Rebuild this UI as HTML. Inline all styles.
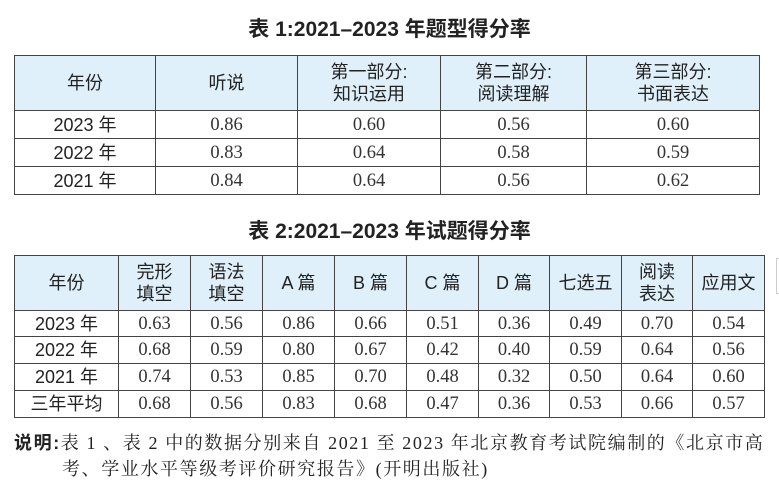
<!DOCTYPE html>
<html><head><meta charset="utf-8">
<style>
body{margin:0;width:779px;height:489px;background:#fff;position:relative;overflow:hidden;font-family:"Liberation Sans","Noto Sans CJK SC",sans-serif;color:#222}
.title{position:absolute;left:0;width:779px;text-align:center;font-weight:bold;font-size:21px}
table{position:absolute;border-collapse:collapse;table-layout:fixed}
td{border:1.5px solid #444;text-align:center;padding:0;font-size:18px;line-height:22px}
tr.h td{background:#dff0fa;font-size:18px}
td.n{font-family:"Liberation Serif","Noto Serif CJK SC",serif;font-size:18.5px;color:#333}
.note{position:absolute;left:14px;font-family:"Liberation Serif","Noto Serif CJK SC",serif;font-size:18px;letter-spacing:1.6px;color:#222;white-space:nowrap}
</style></head><body>
<div class="title" style="top:13px">表 1:2021–2023 年题型得分率</div>
<table style="left:14px;top:55px;width:745px">
<colgroup><col style="width:141px"><col style="width:142px"><col style="width:143px"><col style="width:146px"><col style="width:173px"></colgroup>
<tr class="h" style="height:55px"><td>年份</td><td>听说</td><td>第一部分:<br>知识运用</td><td>第二部分:<br>阅读理解</td><td>第三部分:<br>书面表达</td></tr>
<tr style="height:28px"><td>2023 年</td><td class="n">0.86</td><td class="n">0.60</td><td class="n">0.56</td><td class="n">0.60</td></tr>
<tr style="height:28px"><td>2022 年</td><td class="n">0.83</td><td class="n">0.64</td><td class="n">0.58</td><td class="n">0.59</td></tr>
<tr style="height:28px"><td>2021 年</td><td class="n">0.84</td><td class="n">0.64</td><td class="n">0.56</td><td class="n">0.62</td></tr>
</table>
<div class="title" style="top:215px">表 2:2021–2023 年试题得分率</div>
<table style="left:14px;top:255px;width:750px">
<colgroup><col style="width:104px"><col style="width:72px"><col style="width:72px"><col style="width:72px"><col style="width:72px"><col style="width:72px"><col style="width:71px"><col style="width:72px"><col style="width:71px"><col style="width:72px"></colgroup>
<tr class="h" style="height:55px"><td>年份</td><td>完形<br>填空</td><td>语法<br>填空</td><td>A 篇</td><td>B 篇</td><td>C 篇</td><td>D 篇</td><td>七选五</td><td>阅读<br>表达</td><td>应用文</td></tr>
<tr style="height:26px"><td>2023 年</td><td class="n">0.63</td><td class="n">0.56</td><td class="n">0.86</td><td class="n">0.66</td><td class="n">0.51</td><td class="n">0.36</td><td class="n">0.49</td><td class="n">0.70</td><td class="n">0.54</td></tr>
<tr style="height:27px"><td>2022 年</td><td class="n">0.68</td><td class="n">0.59</td><td class="n">0.80</td><td class="n">0.67</td><td class="n">0.42</td><td class="n">0.40</td><td class="n">0.59</td><td class="n">0.64</td><td class="n">0.56</td></tr>
<tr style="height:27px"><td>2021 年</td><td class="n">0.74</td><td class="n">0.53</td><td class="n">0.85</td><td class="n">0.70</td><td class="n">0.48</td><td class="n">0.32</td><td class="n">0.50</td><td class="n">0.64</td><td class="n">0.60</td></tr>
<tr style="height:27px"><td>三年平均</td><td class="n">0.68</td><td class="n">0.56</td><td class="n">0.83</td><td class="n">0.68</td><td class="n">0.47</td><td class="n">0.36</td><td class="n">0.53</td><td class="n">0.66</td><td class="n">0.57</td></tr>
</table>
<div style="position:absolute;left:776px;top:258px;width:10px;height:34px;border:1px solid #ccc"></div>
<div class="note" style="top:429px"><b style="font-family:'Liberation Sans','Noto Sans CJK SC',sans-serif">说明:</b>表 1 、表 2 中的数据分别来自 2021 至 2023 年北京教育考试院编制的《北京市高</div>
<div class="note" style="top:455px;left:62px">考、学业水平等级考评价研究报告》(开明出版社)</div>
</body></html>
